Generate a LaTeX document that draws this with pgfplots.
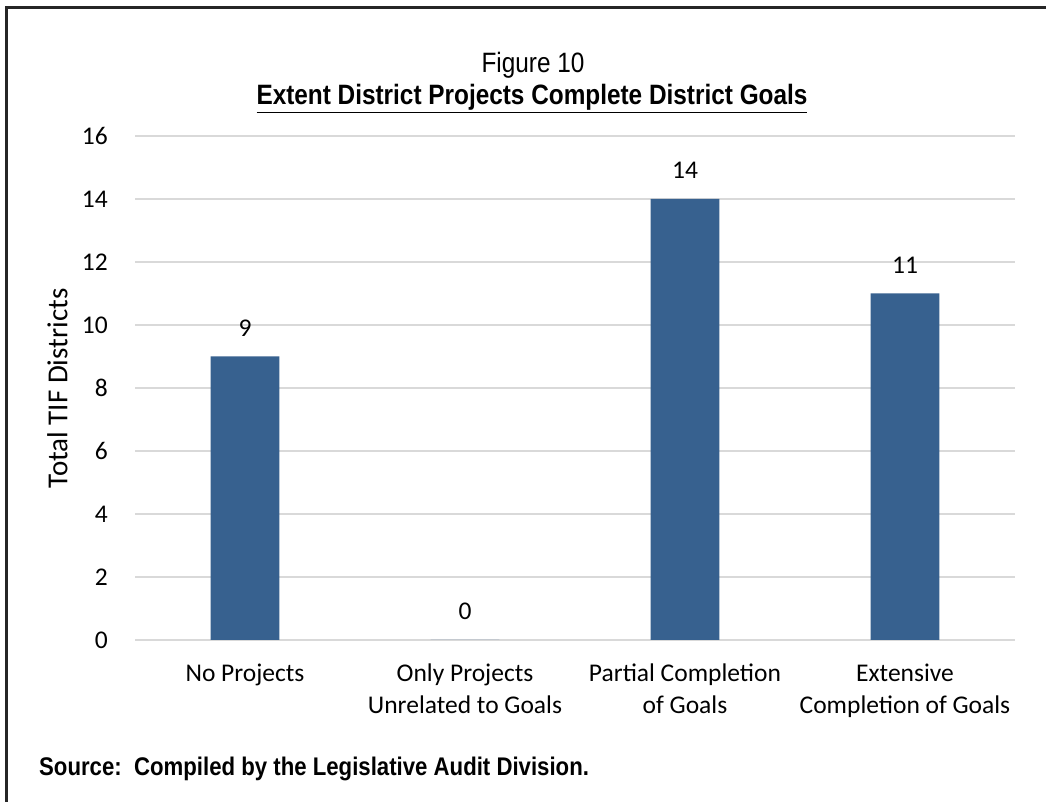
\documentclass[border=0pt]{standalone}
\usepackage{pgfplots}
\pgfplotsset{compat=1.18}
\usepackage{fontspec}
\setmainfont{Carlito}
\newfontfamily\narrowfont[FakeStretch=0.87]{Liberation Sans}
\definecolor{barblue}{HTML}{37618F}
\definecolor{gridgray}{HTML}{D9D9D9}
\definecolor{framegray}{HTML}{262626}

\begin{document}
\begin{tikzpicture}
  % page area and frame
  \path[use as bounding box] (0pt,0pt) rectangle (1046pt,802pt);
  \draw[framegray, line width=3pt] (6pt,0pt) -- (6pt,794pt) -- (1046pt,794pt);

  \begin{axis}[
    at={(135pt,162pt)}, anchor=south west,
    scale only axis, width=880pt, height=504pt,
    xmin=-0.5, xmax=3.5, ymin=0, ymax=16,
    ytick={0,2,...,16},
    xtick={0,1,2,3},
    xticklabels={No Projects,Only Projects\\Unrelated to Goals,Partial Completion\\of Goals,Extensive\\Completion of Goals},
    axis line style={draw=none},
    tick style={draw=none},
    ymajorgrids,
    grid style={gridgray, line width=2pt},
    /pgf/number format/assume math mode=true,
    tick label style={font=\fontsize{25.5}{32}\selectfont, black},
    yticklabel style={anchor=east, inner sep=0pt, xshift=-27pt},
    xticklabel style={align=center, anchor=north, inner sep=0pt, yshift=-24pt},
    clip=false,
  ]
    \addplot[ybar, bar width=68.6pt, fill=barblue, draw=none,
      nodes near coords,
      nodes near coords style={font=\fontsize{25.5}{28}\selectfont, black, anchor=south, inner sep=0pt, yshift=20pt},
    ] coordinates {(0,9) (1,0) (2,14) (3,11)};
  \end{axis}

  % axis title
  \node[rotate=90, font=\fontsize{29}{32}\selectfont, inner sep=0pt] at (57.5pt,413.5pt) {Total TIF Districts};

  % headings and source note
  \node[font=\narrowfont\fontsize{28}{32}\selectfont, anchor=base] at (533pt,729pt) {Figure 10};
  \node[font=\narrowfont\bfseries\fontsize{28}{32}\selectfont, anchor=base] at (532pt,697pt) {\underline{Extent District Projects Complete District Goals}};
  \node[font=\narrowfont\bfseries\fontsize{25.5}{30}\selectfont, anchor=base west, inner sep=0pt] at (39pt,26.5pt) {Source:\ \ Compiled by the Legislative Audit Division.};
\end{tikzpicture}
\end{document}
